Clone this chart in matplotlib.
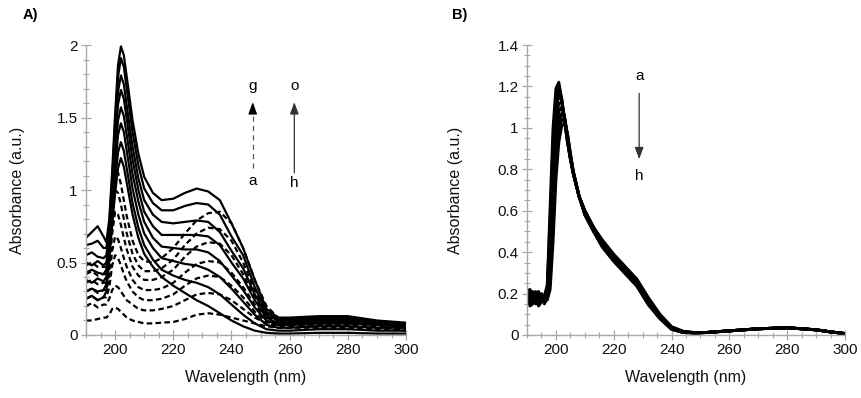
import numpy as np
import matplotlib
matplotlib.use('Agg')
import matplotlib.pyplot as plt
from matplotlib.ticker import MultipleLocator, FuncFormatter

plt.rcParams['font.family'] = ['Liberation Sans', 'DejaVu Sans']

# ---- panel A data: wavelength grid, dashed series a-g, solid series h-o
wl_a = [190, 192, 194, 196, 197, 198, 199, 200, 201, 202, 203, 204, 206, 208, 210,
        213, 216, 220, 224, 228, 232, 236, 240, 244, 248, 252, 256, 260, 270, 280, 290, 300]

dashed_a = {
    'a': [0.10, 0.10, 0.11, 0.12, 0.12, 0.14, 0.18, 0.19, 0.18, 0.16, 0.14, 0.12, 0.10, 0.09, 0.08,
          0.08, 0.085, 0.09, 0.11, 0.14, 0.15, 0.14, 0.12, 0.10, 0.08, 0.06, 0.05, 0.05, 0.05, 0.05, 0.04, 0.03],
    'b': [0.20, 0.22, 0.19, 0.21, 0.21, 0.25, 0.31, 0.34, 0.33, 0.30, 0.27, 0.24, 0.21, 0.18, 0.17,
          0.17, 0.18, 0.20, 0.24, 0.28, 0.29, 0.28, 0.24, 0.18, 0.12, 0.08, 0.06, 0.06, 0.06, 0.06, 0.05, 0.04],
    'c': [0.25, 0.27, 0.24, 0.26, 0.26, 0.33, 0.48, 0.55, 0.53, 0.48, 0.42, 0.37, 0.30, 0.26, 0.24,
          0.24, 0.25, 0.28, 0.34, 0.39, 0.41, 0.40, 0.34, 0.26, 0.16, 0.09, 0.07, 0.07, 0.07, 0.07, 0.06, 0.05],
    'd': [0.30, 0.32, 0.29, 0.31, 0.31, 0.40, 0.58, 0.68, 0.66, 0.60, 0.53, 0.47, 0.38, 0.33, 0.31,
          0.31, 0.32, 0.36, 0.43, 0.49, 0.51, 0.50, 0.43, 0.33, 0.21, 0.11, 0.08, 0.08, 0.08, 0.08, 0.07, 0.055],
    'e': [0.36, 0.38, 0.35, 0.36, 0.36, 0.47, 0.70, 0.85, 0.83, 0.76, 0.67, 0.59, 0.47, 0.41, 0.38,
          0.38, 0.40, 0.45, 0.54, 0.61, 0.64, 0.63, 0.55, 0.42, 0.26, 0.13, 0.09, 0.08, 0.09, 0.09, 0.07, 0.06],
    'f': [0.42, 0.44, 0.41, 0.42, 0.42, 0.54, 0.82, 1.00, 0.98, 0.90, 0.80, 0.70, 0.56, 0.48, 0.44,
          0.44, 0.46, 0.52, 0.62, 0.70, 0.74, 0.73, 0.65, 0.50, 0.31, 0.15, 0.10, 0.09, 0.09, 0.09, 0.08, 0.065],
    'g': [0.48, 0.50, 0.47, 0.47, 0.47, 0.60, 0.93, 1.15, 1.12, 1.04, 0.93, 0.82, 0.65, 0.55, 0.51,
          0.50, 0.53, 0.60, 0.70, 0.79, 0.84, 0.85, 0.77, 0.60, 0.38, 0.20, 0.12, 0.10, 0.10, 0.10, 0.09, 0.07],
}

solid_a = {
    'h': [0.25, 0.27, 0.24, 0.26, 0.30, 0.52, 0.76, 0.98, 1.15, 1.22, 1.16, 1.05, 0.83, 0.67, 0.56,
          0.47, 0.40, 0.34, 0.29, 0.24, 0.20, 0.15, 0.10, 0.06, 0.03, 0.015, 0.01, 0.01, 0.015, 0.015, 0.01, 0.01],
    'i': [0.30, 0.32, 0.30, 0.31, 0.35, 0.56, 0.81, 1.06, 1.26, 1.33, 1.27, 1.15, 0.91, 0.74, 0.62,
          0.52, 0.45, 0.41, 0.38, 0.36, 0.33, 0.28, 0.21, 0.14, 0.08, 0.04, 0.03, 0.03, 0.04, 0.04, 0.03, 0.03],
    'j': [0.38, 0.36, 0.39, 0.37, 0.40, 0.60, 0.87, 1.15, 1.38, 1.46, 1.40, 1.27, 1.01, 0.83, 0.70,
          0.60, 0.53, 0.51, 0.49, 0.48, 0.45, 0.40, 0.32, 0.23, 0.14, 0.07, 0.05, 0.05, 0.06, 0.06, 0.05, 0.05],
    'k': [0.43, 0.45, 0.43, 0.42, 0.45, 0.64, 0.92, 1.23, 1.48, 1.57, 1.51, 1.38, 1.11, 0.92, 0.78,
          0.67, 0.61, 0.60, 0.59, 0.59, 0.57, 0.51, 0.41, 0.31, 0.19, 0.10, 0.07, 0.07, 0.08, 0.08, 0.07, 0.06],
    'l': [0.50, 0.48, 0.51, 0.48, 0.50, 0.68, 0.98, 1.31, 1.59, 1.69, 1.63, 1.49, 1.21, 1.00, 0.85,
          0.75, 0.69, 0.69, 0.69, 0.69, 0.68, 0.62, 0.50, 0.39, 0.24, 0.12, 0.08, 0.09, 0.10, 0.10, 0.08, 0.07],
    'm': [0.55, 0.57, 0.54, 0.53, 0.55, 0.72, 1.03, 1.38, 1.68, 1.79, 1.73, 1.58, 1.30, 1.08, 0.93,
          0.83, 0.78, 0.77, 0.78, 0.79, 0.78, 0.71, 0.58, 0.46, 0.28, 0.14, 0.10, 0.10, 0.11, 0.11, 0.09, 0.075],
    'n': [0.62, 0.63, 0.65, 0.60, 0.60, 0.76, 1.08, 1.46, 1.78, 1.91, 1.85, 1.70, 1.40, 1.17, 1.01,
          0.91, 0.86, 0.86, 0.89, 0.91, 0.90, 0.83, 0.68, 0.55, 0.33, 0.16, 0.11, 0.11, 0.12, 0.12, 0.09, 0.08],
    'o': [0.67, 0.71, 0.75, 0.68, 0.64, 0.80, 1.13, 1.52, 1.86, 1.99, 1.93, 1.78, 1.48, 1.25, 1.09,
          0.98, 0.93, 0.94, 0.98, 1.01, 0.99, 0.93, 0.77, 0.60, 0.38, 0.18, 0.12, 0.12, 0.13, 0.13, 0.10, 0.085],
}

# ---- panel B data: series a-h
wl_b = [190, 191, 192, 193, 194, 195, 196, 197, 198, 199, 200, 201, 202, 203, 204, 205, 206, 208,
        210, 213, 216, 220, 224, 228, 232, 236, 240, 244, 248, 252, 260, 270, 280, 290, 295, 300]

series_b = {
    'a': [0.20, 0.22, 0.19, 0.21, 0.18, 0.17, 0.19, 0.24, 0.62, 1.00, 1.19, 1.22, 1.14, 1.03, 0.93, 0.85, 0.78, 0.67,
          0.60, 0.52, 0.46, 0.39, 0.33, 0.27, 0.18, 0.10, 0.040, 0.018, 0.012, 0.012, 0.02, 0.03, 0.035, 0.025, 0.015, 0.007],
    'b': [0.18, 0.21, 0.17, 0.20, 0.20, 0.16, 0.18, 0.23, 0.55, 0.93, 1.14, 1.19, 1.14, 1.04, 0.93, 0.85, 0.78, 0.67,
          0.60, 0.52, 0.455, 0.385, 0.325, 0.265, 0.175, 0.095, 0.038, 0.017, 0.011, 0.012, 0.02, 0.03, 0.035, 0.025, 0.015, 0.007],
    'c': [0.17, 0.19, 0.21, 0.17, 0.19, 0.18, 0.17, 0.21, 0.48, 0.85, 1.09, 1.16, 1.13, 1.04, 0.94, 0.85, 0.78, 0.67,
          0.60, 0.52, 0.45, 0.38, 0.32, 0.26, 0.17, 0.09, 0.036, 0.016, 0.011, 0.012, 0.02, 0.03, 0.035, 0.025, 0.015, 0.007],
    'd': [0.16, 0.18, 0.20, 0.16, 0.21, 0.17, 0.16, 0.20, 0.41, 0.77, 1.03, 1.12, 1.12, 1.05, 0.95, 0.86, 0.78, 0.67,
          0.59, 0.51, 0.445, 0.375, 0.315, 0.255, 0.165, 0.088, 0.034, 0.015, 0.010, 0.012, 0.02, 0.03, 0.035, 0.025, 0.015, 0.007],
    'e': [0.15, 0.17, 0.19, 0.18, 0.16, 0.20, 0.17, 0.19, 0.35, 0.68, 0.96, 1.08, 1.10, 1.05, 0.96, 0.86, 0.78, 0.67,
          0.59, 0.51, 0.44, 0.37, 0.31, 0.25, 0.16, 0.085, 0.032, 0.014, 0.010, 0.012, 0.02, 0.03, 0.035, 0.025, 0.015, 0.007],
    'f': [0.19, 0.16, 0.18, 0.15, 0.17, 0.19, 0.15, 0.18, 0.30, 0.60, 0.89, 1.03, 1.07, 1.05, 0.96, 0.87, 0.79, 0.67,
          0.59, 0.51, 0.435, 0.365, 0.305, 0.245, 0.155, 0.082, 0.030, 0.013, 0.010, 0.012, 0.02, 0.03, 0.035, 0.025, 0.015, 0.007],
    'g': [0.21, 0.15, 0.16, 0.19, 0.15, 0.18, 0.16, 0.17, 0.26, 0.52, 0.82, 0.98, 1.04, 1.04, 0.97, 0.87, 0.79, 0.67,
          0.58, 0.50, 0.43, 0.36, 0.30, 0.24, 0.15, 0.080, 0.028, 0.012, 0.010, 0.012, 0.02, 0.03, 0.035, 0.025, 0.015, 0.007],
    'h': [0.22, 0.14, 0.15, 0.17, 0.14, 0.16, 0.18, 0.17, 0.22, 0.45, 0.75, 0.93, 1.01, 1.02, 0.97, 0.88, 0.79, 0.67,
          0.58, 0.50, 0.425, 0.355, 0.295, 0.235, 0.145, 0.078, 0.027, 0.012, 0.010, 0.012, 0.02, 0.03, 0.035, 0.025, 0.015, 0.007],
}

AXIS_GREY = '#a8a8a8'
TICK_FS = 11
LABEL_FS = 11.5
HEAD = '-|>,head_length=0.6,head_width=0.22'


def style_axis(ax, ymax, ymajor, yminor):
    ax.set_xlim(190, 300)
    ax.set_ylim(0, ymax)
    for s in ['top', 'right']:
        ax.spines[s].set_visible(False)
    for s in ['left', 'bottom']:
        ax.spines[s].set_color(AXIS_GREY)
        ax.spines[s].set_linewidth(1.0)
    ax.xaxis.set_major_locator(MultipleLocator(20))
    ax.xaxis.set_minor_locator(MultipleLocator(5))
    ax.yaxis.set_major_locator(MultipleLocator(ymajor))
    ax.yaxis.set_minor_locator(MultipleLocator(yminor))
    ax.yaxis.set_major_formatter(FuncFormatter(lambda v, p: '%g' % round(v, 2)))
    ax.xaxis.set_major_formatter(FuncFormatter(lambda v, p: '' if v < 199 else '%g' % v))
    ax.tick_params(which='major', direction='inout', length=7, width=0.9,
                   color=AXIS_GREY, labelsize=TICK_FS, labelcolor='#111111', pad=2.5)
    ax.tick_params(which='minor', direction='inout', length=4.5, width=0.8, color=AXIS_GREY)
    ax.set_xlabel('Wavelength (nm)', fontsize=LABEL_FS, color='#111111')
    ax.set_ylabel('Absorbance (a.u.)', fontsize=LABEL_FS, color='#111111')


fig = plt.figure(figsize=(8.61, 3.98), dpi=100)
ax1 = fig.add_axes([0.0999, 0.1583, 0.3717, 0.7286])
ax2 = fig.add_axes([0.6121, 0.1583, 0.3693, 0.7286])

# panel A
for name, vals in dashed_a.items():
    ax1.plot(wl_a, vals, color='black', lw=1.6, ls=(0, (2.5, 1.5)))
for name, vals in solid_a.items():
    ax1.plot(wl_a, vals, color='black', lw=1.6)
style_axis(ax1, 2, 0.5, 0.1)
ax1.xaxis.set_label_coords(0.5, -0.12)
ax1.yaxis.set_label_coords(-0.19, 0.5)

# arrows a->g (dashed) and h->o (solid)
ax1.text(247.3, 1.72, 'g', ha='center', va='center', fontsize=TICK_FS)
ax1.text(247.3, 1.06, 'a', ha='center', va='center', fontsize=TICK_FS)
ax1.text(261.6, 1.72, 'o', ha='center', va='center', fontsize=TICK_FS)
ax1.text(261.6, 1.05, 'h', ha='center', va='center', fontsize=TICK_FS)
ax1.plot([247.3, 247.3], [1.15, 1.57], color='#555555', lw=0.9, ls=(0, (4, 3.5)))
ax1.annotate('', xy=(247.3, 1.625), xytext=(247.3, 1.56),
             arrowprops=dict(arrowstyle=HEAD, color='black', lw=0.9, mutation_scale=12))
ax1.annotate('', xy=(261.6, 1.625), xytext=(261.6, 1.10),
             arrowprops=dict(arrowstyle=HEAD, color='#333333', lw=0.9, mutation_scale=12))

# panel B
for name, vals in series_b.items():
    ax2.plot(wl_b, vals, color='black', lw=2.1)
style_axis(ax2, 1.4, 0.2, 0.05)
ax2.xaxis.set_label_coords(0.5, -0.12)
ax2.yaxis.set_label_coords(-0.2, 0.5)

ax2.text(228.8, 1.25, 'a', ha='center', va='center', fontsize=TICK_FS)
ax2.text(228.8, 0.77, 'h', ha='center', va='center', fontsize=TICK_FS)
ax2.annotate('', xy=(228.8, 0.835), xytext=(228.8, 1.18),
             arrowprops=dict(arrowstyle=HEAD, color='#333333', lw=0.9, mutation_scale=12))

fig.text(0.035, 0.962, 'A)', fontsize=10.5, fontweight='bold', ha='center', va='center')
fig.text(0.534, 0.962, 'B)', fontsize=10.5, fontweight='bold', ha='center', va='center')

plt.savefig('out.png', dpi=100)
